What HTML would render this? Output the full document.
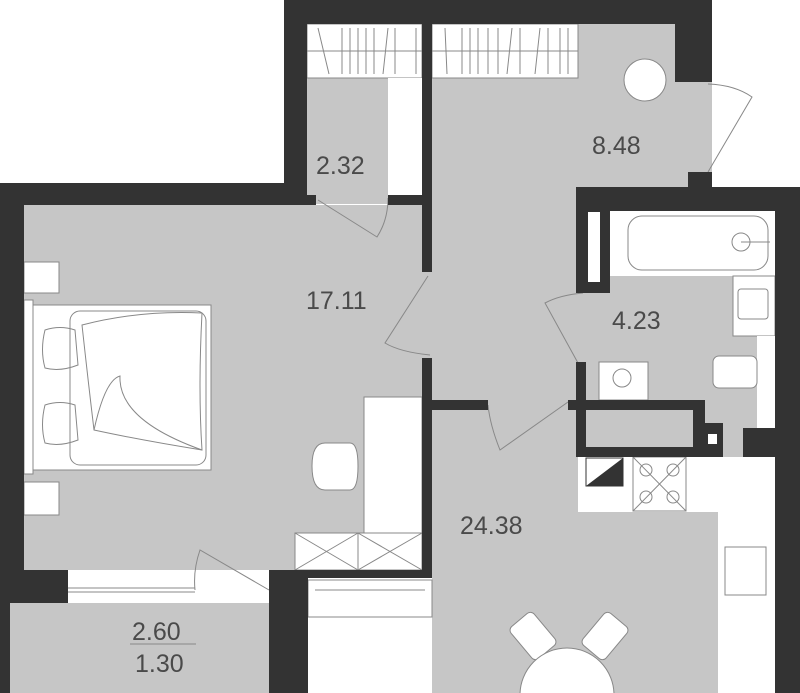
<!DOCTYPE html>
<html><head><meta charset="utf-8"><style>
html,body{margin:0;padding:0;background:#fff;width:800px;height:693px;overflow:hidden}
svg{display:block;overflow:hidden}
text{font-family:"Liberation Sans",sans-serif;fill:#4a4a4a;font-size:25px}
</style></head><body>
<svg width="800" height="693" viewBox="0 0 800 693" xmlns="http://www.w3.org/2000/svg">
<g fill="#c6c6c6">
<rect x="24" y="205" width="398" height="365"/>
<rect x="307" y="24" width="115" height="180"/>
<rect x="432" y="24" width="280" height="163"/>
<rect x="432" y="187" width="144" height="223"/>
<rect x="576" y="293" width="40" height="117"/>
<rect x="610" y="211" width="165" height="220"/>
<rect x="432" y="410" width="343" height="283"/>
<rect x="586" y="410" width="107" height="37"/>
<rect x="10" y="603" width="259" height="90"/>
<rect x="422" y="272" width="10" height="86"/>
</g>
<g fill="#fff" stroke="#888" stroke-width="1">
<rect x="307" y="24" width="115" height="54"/>
<rect x="432" y="24" width="146" height="54"/>
<rect x="388" y="78" width="34" height="117" stroke="none"/>
<rect x="610" y="211" width="165" height="65" stroke="none"/>
<rect x="628" y="216" width="140" height="54" rx="14"/>
<rect x="733" y="276" width="42" height="60"/>
<rect x="738" y="289" width="30" height="30" rx="3"/>
<rect x="757" y="336" width="18" height="95" stroke="none"/>
<rect x="713" y="356" width="44" height="32" rx="6"/>
<rect x="599" y="362" width="49" height="38"/>
<rect x="578" y="457" width="140" height="55" stroke="none"/>
<rect x="718" y="457" width="57" height="236" stroke="none"/>
<rect x="633" y="457" width="53" height="54"/>
<rect x="725" y="547" width="41" height="48"/>
<rect x="24" y="262" width="35" height="31"/>
<rect x="24" y="482" width="35" height="33"/>
<rect x="24" y="300" width="9" height="174"/>
<rect x="33" y="305" width="178" height="165"/>
<rect x="70" y="311" width="136" height="154" rx="10"/>
<rect x="364" y="397" width="58" height="136"/>
<rect x="295" y="533" width="127" height="37"/>
<rect x="308" y="580" width="124" height="37"/>
<path d="M325 443 Q312 443 312 466 Q312 490 325 490 L350 490 Q358 490 358 466 Q358 443 350 443 Z"/>
</g>
<g stroke="#888" stroke-width="1" fill="none">
<line x1="307" y1="51" x2="422" y2="51"/><line x1="432" y1="51" x2="578" y2="51"/>
<path d="M318 28 L329 74 M342 28 V74 M350 28 V74 M358 28 V74 M366 28 V74 M374 28 V74 M388 28 L383 74 M395 28 V74 M416 28 V74"/>
<path d="M445 28 L447 74 M462 28 V74 M470 28 V74 M478 28 V74 M488 28 V74 M498 28 V74 M512 28 L507 74 M520 28 V74 M540 28 L535 74 M548 28 V74 M560 28 V74 M568 28 V74"/>
<path d="M295 533 L358 570 M358 533 L295 570 M358 533 L422 570 M422 533 L358 570 M358 533 V570"/>
<path d="M633 457 L686 511 M686 457 L633 511"/>
<circle cx="646" cy="470" r="6"/><circle cx="673" cy="470" r="6"/><circle cx="646" cy="497" r="6"/><circle cx="673" cy="497" r="6"/>
<path d="M82 325 Q140 310 202 313 Q198 390 202 450 Q140 440 94 430 Q88 380 82 325 Z"/>
<path d="M94 430 Q105 380 120 376 Q118 420 202 450"/>
<path d="M45 330 Q60 325 75 330 L78 365 Q60 372 45 368 Q40 350 45 330Z"/>
<path d="M45 405 Q60 400 75 405 L78 440 Q60 447 45 443 Q40 425 45 405Z"/>
<circle cx="741" cy="242" r="9"/><line x1="741" y1="242" x2="770" y2="242"/>
<circle cx="622" cy="378" r="9"/>
<path d="M428 276 L385 343 Q400 352 430 355"/>
<path d="M318 200 L377 237 Q388 220 388 198"/>
<path d="M583 293 Q560 295 545 303 L578 363"/>
<path d="M568 402 L500 450 Q490 425 488 405"/>
<path d="M708 84 Q735 85 752 97 L708 172"/>
<path d="M269 590 L200 550 Q193 570 195 590"/>
<line x1="68" y1="588" x2="195" y2="588"/><line x1="68" y1="592" x2="195" y2="592"/>
<line x1="315" y1="590" x2="425" y2="590"/>
<line x1="130" y1="644" x2="196" y2="644"/>
</g>
<circle cx="645" cy="80" r="21" fill="#fff" stroke="#888"/>
<polygon points="586,486 623,458 623,486" fill="#333"/>
<rect x="586" y="458" width="37" height="28" fill="none" stroke="#333"/>
<g fill="#fff" stroke="#888">
<rect x="518" y="615" width="30" height="42" rx="5" transform="rotate(-40 533 636)"/>
<rect x="590" y="615" width="30" height="42" rx="5" transform="rotate(40 605 636)"/>
</g>
<circle cx="567" cy="695" r="47" fill="#fff" stroke="#888"/>
<g fill="#333">
<rect x="284" y="0" width="428" height="24"/>
<rect x="284" y="0" width="23" height="205"/>
<rect x="0" y="183" width="307" height="22"/>
<rect x="0" y="183" width="24" height="387"/>
<rect x="422" y="24" width="10" height="248"/>
<rect x="388" y="195" width="34" height="10"/>
<rect x="307" y="195" width="9" height="10"/>
<rect x="422" y="358" width="10" height="220"/>
<rect x="432" y="400" width="56" height="10"/>
<rect x="675" y="0" width="37" height="82"/>
<rect x="688" y="172" width="24" height="16"/>
<rect x="576" y="187" width="224" height="24"/>
<rect x="576" y="187" width="34" height="106"/>
<rect x="775" y="187" width="25" height="506"/>
<rect x="576" y="362" width="10" height="48"/>
<rect x="568" y="400" width="137" height="10"/>
<rect x="576" y="400" width="10" height="57"/>
<rect x="576" y="447" width="129" height="10"/>
<rect x="693" y="400" width="12" height="57"/>
<rect x="703" y="423" width="20" height="34"/>
<rect x="743" y="428" width="57" height="29"/>
<rect x="269" y="570" width="163" height="8"/>
<rect x="269" y="570" width="39" height="123"/>
<rect x="0" y="570" width="68" height="33"/>
<rect x="0" y="603" width="10" height="90"/>
</g>
<g fill="#fff">
<rect x="588" y="212" width="12" height="70"/>
<rect x="708" y="434" width="9" height="10"/>
</g>
<text x="316" y="174">2.32</text>
<text x="592" y="154">8.48</text>
<text x="306" y="309">17.11</text>
<text x="612" y="329">4.23</text>
<text x="460" y="534">24.38</text>
<text x="132" y="640">2.60</text>
<text x="135" y="672">1.30</text>
</svg>
</body></html>
